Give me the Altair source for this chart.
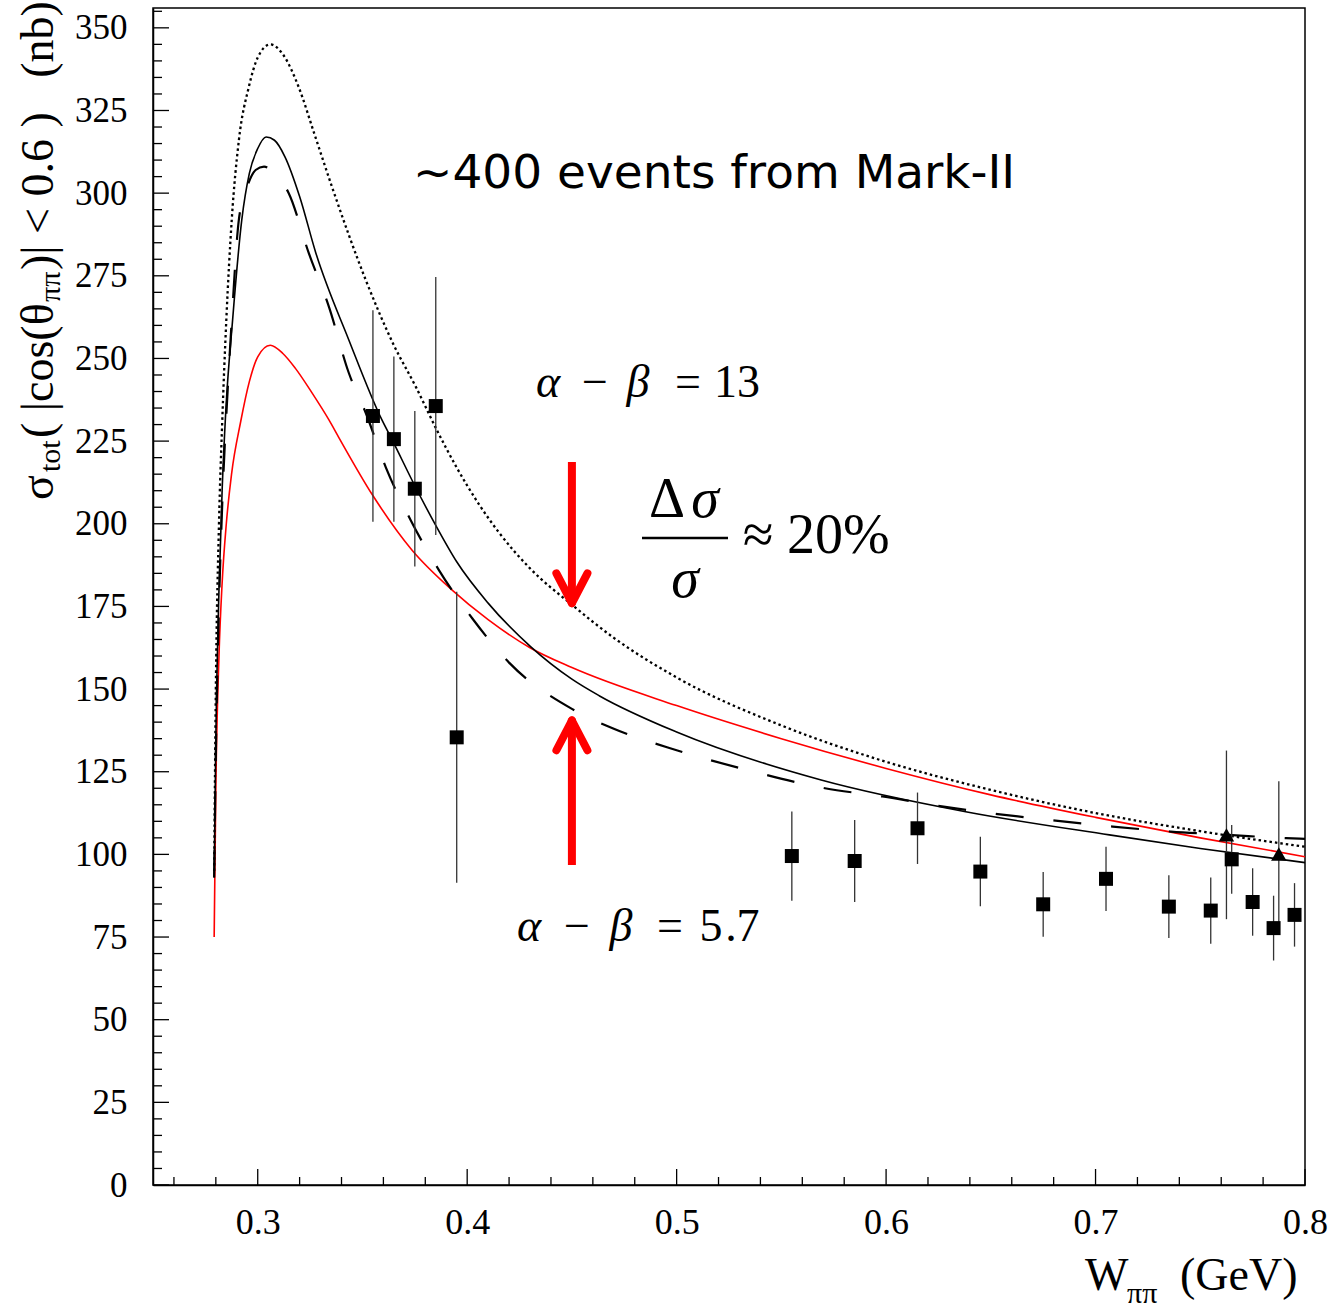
import altair as alt
import pandas as pd

# ---------------- data ----------------
# solid black curve
sol_x = [0.2792, 0.2800, 0.2815, 0.2830, 0.2847, 0.2880, 0.2924, 0.2960, 0.3000, 0.3040,
         0.3080, 0.3130, 0.3200, 0.3277, 0.3435, 0.3593, 0.3640, 0.3750, 0.3850, 0.3950,
         0.4100, 0.4300, 0.4500, 0.4630, 0.5000, 0.5690, 0.6380, 0.7066, 0.7500, 0.8000]
sol_y = [93, 135, 180, 210, 233.5, 261.6, 292, 306, 313.5, 317,
         316, 311, 299, 282, 255.6, 231.4, 225.6, 211.5, 199.5, 188.5,
         176, 163, 153, 148, 137, 122.5, 112.9, 105.9, 101.8, 97.5]

# red curve
red_x = [0.2792, 0.2800, 0.2815, 0.2830, 0.2850, 0.2875, 0.2919, 0.2960, 0.3000, 0.3060,
         0.3120, 0.3180, 0.3260, 0.3340, 0.3388, 0.3545, 0.3737, 0.3927, 0.4100, 0.4300,
         0.4500, 0.5000, 0.5500, 0.6000, 0.6500, 0.7000, 0.7500, 0.8000]
red_y = [75, 120, 160, 182, 200, 215, 231, 243, 250.5, 254,
         251.5, 247, 239.5, 231.4, 226, 209, 192, 180, 171, 162.5,
         156.5, 145, 135, 126, 118, 111.2, 105, 99.3]

# dotted curve
dot_x = [0.2792, 0.2800, 0.2815, 0.2830, 0.2850, 0.2876, 0.2910, 0.2957, 0.3000, 0.3060,
         0.3120, 0.3196, 0.3270, 0.3354, 0.3516, 0.3650, 0.3755, 0.3850, 0.3950, 0.4050,
         0.4150, 0.4300, 0.4500, 0.4700, 0.5000, 0.5500, 0.6000, 0.6500, 0.7000, 0.7500,
         0.8000]
dot_y = [95, 150, 200, 230, 261.6, 292, 316, 332, 341, 345,
         342, 332, 318, 302, 273.7, 254, 241.4, 229, 217, 206.5,
         197.5, 186.5, 175.5, 165.5, 153.5, 139, 128, 119.5, 112.5, 107,
         102.3]

# dashed curve
das_x = [0.2792, 0.2800, 0.2815, 0.2830, 0.2857, 0.2876, 0.2910, 0.2950, 0.2990, 0.3030,
         0.3080, 0.3148, 0.3243, 0.3340, 0.3435, 0.3516, 0.3612, 0.3731, 0.3865, 0.4023,
         0.4200, 0.4500, 0.4700, 0.5000, 0.5350, 0.5708, 0.5983, 0.6258, 0.6533, 0.6809,
         0.7082, 0.7359, 0.7634, 0.7910, 0.8000]
das_y = [93, 130, 175, 205, 241, 261.6, 292, 302, 307, 308,
         306, 300, 282, 265.6, 245.6, 233.5, 217, 201, 186, 171.5,
         158, 144, 138, 131.5, 125.3, 120, 117.5, 114.6, 112.2, 110.2,
         108.4, 106.9, 105.9, 104.9, 104.7]

# Mark-II data (squares)
sq_x = [0.355, 0.365, 0.375, 0.385, 0.395, 0.555, 0.585, 0.615, 0.645, 0.675,
        0.705, 0.735, 0.755, 0.765, 0.775, 0.785, 0.795]
sq_y = [232.6, 225.6, 210.6, 235.6, 135.4, 99.5, 98.0, 107.9, 94.8, 84.9,
        92.6, 84.2, 83.0, 98.5, 85.6, 77.7, 81.7]
sq_err = [32, 25, 23.5, 39, 44, 13.5, 12.4, 10.8, 10.5, 9.8,
          9.7, 9.5, 10, 10.4, 10.2, 9.8, 9.6]

# triangles
tri_x = [0.7625, 0.7875]
tri_y = [105.9, 100.1]
tri_err = [25.5, 22]

# axis ticks / labels
x_labels = [0.3, 0.4, 0.5, 0.6, 0.7, 0.8]
x_minor = [0.26, 0.28, 0.32, 0.34, 0.36, 0.38, 0.42, 0.44, 0.46, 0.48, 0.52, 0.54, 0.56,
           0.58, 0.62, 0.64, 0.66, 0.68, 0.72, 0.74, 0.76, 0.78]
y_labels = [0, 25, 50, 75, 100, 125, 150, 175, 200, 225, 250, 275, 300, 325, 350]
y_minor = [v for v in range(0, 356, 5) if v % 25 != 0]

# red arrows (annotation), data coordinates
arr_x = [0.45, 0.4426, 0.4574, 0.45, 0.4426, 0.4574]
arr_y = [218.7, 185.0, 185.0, 96.8, 131.5, 131.5]
arr_x2 = [0.45, 0.45, 0.45, 0.45, 0.45, 0.45]
arr_y2 = [176.0, 176.0, 176.0, 140.5, 140.5, 140.5]
arr_kind = ["shaft", "head", "head", "shaft", "head", "head"]

# ---------------- chart ----------------
W, H = 1152, 1177
PL, PT = 153, 8
X_DOM = [0.25, 0.8]
Y_DOM = [0, 356]
SERIF = "Liberation Serif"

xaxis = alt.Axis(values=x_labels, format=".1f", ticks=False, tickSize=0, grid=False,
                 labelFont=SERIF, labelFontSize=36, labelColor="black", labelPadding=20,
                 domainColor="black", domainWidth=1.5, labelFlush=False, labelOverlap=False)
yaxis = alt.Axis(values=y_labels, format="d", ticks=False, tickSize=0, grid=False,
                 labelFont=SERIF, labelFontSize=35, labelColor="black", labelPadding=26,
                 domainColor="black", domainWidth=1.5, labelOverlap=False)

xs = alt.Scale(domain=X_DOM, nice=False, zero=False)
ys = alt.Scale(domain=Y_DOM, nice=False, zero=False)


def X(f="x"):
    return alt.X(f"{f}:Q", scale=xs, axis=xaxis, title=None)


def Y(f="y"):
    return alt.Y(f"{f}:Q", scale=ys, axis=yaxis, title=None)


def line(xv, yv, **kw):
    df = pd.DataFrame({"x": xv, "y": yv})
    return alt.Chart(df).mark_line(interpolate="monotone", **kw).encode(x=X(), y=Y(), order="x:Q")


layers = []
layers.append(line(red_x, red_y, color="#ff0000", strokeWidth=1.6))
layers.append(line(dot_x, dot_y, color="black", strokeWidth=2.3, strokeDash=[2.5, 3]))
layers.append(line(das_x, das_y, color="black", strokeWidth=2.2, strokeDash=[28, 30]))
layers.append(line(sol_x, sol_y, color="black", strokeWidth=1.6))

sq_df = pd.DataFrame({"x": sq_x, "y": sq_y,
                      "lo": [a - b for a, b in zip(sq_y, sq_err)],
                      "hi": [a + b for a, b in zip(sq_y, sq_err)]})
tri_df = pd.DataFrame({"x": tri_x, "y": tri_y,
                       "lo": [a - b for a, b in zip(tri_y, tri_err)],
                       "hi": [a + b for a, b in zip(tri_y, tri_err)]})

for d in (sq_df, tri_df):
    layers.append(alt.Chart(d).mark_rule(color="#333333", strokeWidth=1.3).encode(
        x=X(), y=Y("lo"), y2=alt.Y2("hi:Q")))
layers.append(alt.Chart(sq_df).mark_square(color="black", size=196, opacity=1, filled=True)
              .encode(x=X(), y=Y()))
layers.append(alt.Chart(tri_df).mark_point(shape="triangle-up", color="black", size=240,
                                           opacity=1, filled=True).encode(x=X(), y=Y()))

# inward ticks
layers.append(alt.Chart(pd.DataFrame({"x": x_labels})).mark_rule(color="black", strokeWidth=1.3)
              .encode(x=X(), y=alt.value(H), y2=alt.value(H - 16)))
layers.append(alt.Chart(pd.DataFrame({"x": x_minor})).mark_rule(color="black", strokeWidth=1.3)
              .encode(x=X(), y=alt.value(H), y2=alt.value(H - 8)))
layers.append(alt.Chart(pd.DataFrame({"y": y_labels})).mark_rule(color="black", strokeWidth=1.3)
              .encode(y=Y(), x=alt.value(0), x2=alt.value(16)))
layers.append(alt.Chart(pd.DataFrame({"y": y_minor})).mark_rule(color="black", strokeWidth=1.3)
              .encode(y=Y(), x=alt.value(0), x2=alt.value(9)))

# arrows
arr_df = pd.DataFrame({"x": arr_x, "y": arr_y, "x2": arr_x2, "y2": arr_y2, "kind": arr_kind})
layers.append(alt.Chart(arr_df).transform_filter(alt.datum.kind == "shaft")
              .mark_rule(color="#ff0000", strokeWidth=8, strokeCap="butt")
              .encode(x=X(), y=Y(), x2=alt.X2("x2:Q"), y2=alt.Y2("y2:Q")))
layers.append(alt.Chart(arr_df).transform_filter(alt.datum.kind == "head")
              .mark_rule(color="#ff0000", strokeWidth=8, strokeCap="round")
              .encode(x=X(), y=Y(), x2=alt.X2("x2:Q"), y2=alt.Y2("y2:Q")))


def txt(s, px, py, size, font=SERIF, style="normal", align="left", angle=0,
        baseline="alphabetic"):
    return (alt.Chart(alt.Data(values=[{}]))
            .mark_text(text=s, font=font, fontSize=size, fontStyle=style, align=align,
                       baseline=baseline, angle=angle, color="black")
            .encode(x=alt.value(px - PL), y=alt.value(py - PT)))


# annotation texts (page coordinates)
layers.append(txt("~400 events from Mark-II", 413, 188, 47, font="DejaVu Sans"))

layers.append(txt("\u03b1", 548, 397, 46, style="italic", align="center"))
layers.append(txt("\u2212", 595, 397, 46, align="center"))
layers.append(txt("\u03b2", 638, 397, 46, style="italic", align="center"))
layers.append(txt("=", 688, 397, 46, align="center"))
layers.append(txt("13", 737, 397, 46, align="center"))

layers.append(txt("\u03b1", 529, 941, 46, style="italic", align="center"))
layers.append(txt("\u2212", 577, 941, 46, align="center"))
layers.append(txt("\u03b2", 621, 941, 46, style="italic", align="center"))
layers.append(txt("=", 670, 941, 46, align="center"))
layers.append(txt("5", 711, 941, 46, align="center"))
layers.append(txt(".", 731, 941, 46, align="center"))
layers.append(txt("7", 748, 941, 46, align="center"))

layers.append(txt("\u0394", 667, 517, 56, align="center"))
layers.append(txt("\u03c3", 705, 517, 56, style="italic", align="center"))
layers.append(txt("\u03c3", 685, 597, 56, style="italic", align="center"))
layers.append(alt.Chart(alt.Data(values=[{}])).mark_rule(color="black", strokeWidth=2.5)
              .encode(x=alt.value(642 - PL), x2=alt.value(728 - PL), y=alt.value(538 - PT)))
layers.append(txt("\u2248", 758, 553, 56, align="center"))
layers.append(txt("20%", 787, 553, 56))

# y-axis title (rotated pieces, reading upwards)
YB = 53
layers.append(txt("\u03c3", YB, 500, 46, angle=270))
layers.append(txt("tot", YB + 7, 472, 30, angle=270))
layers.append(txt("( |cos(\u03b8", YB, 438, 46, angle=270))
layers.append(txt("\u03c0\u03c0", YB + 7, 302, 30, angle=270))
layers.append(txt(")| < 0.6 )\u00a0\u00a0\u00a0(nb)", YB, 270, 46, angle=270))

# x-axis title
layers.append(txt("W", 1085, 1290, 46))
layers.append(txt("\u03c0\u03c0", 1127, 1303, 30))
layers.append(txt("(GeV)", 1180, 1290, 46))

chart = (alt.layer(*layers)
         .properties(width=W, height=H, autosize=alt.AutoSizeParams(type="none"),
                     padding={"left": PL, "top": PT, "right": 1331 - PL - W,
                              "bottom": 1309 - PT - H},
                     background="white")
         .configure_view(stroke="black", strokeWidth=1.5))

chart.save("out.html", embed_options={"renderer": "svg", "actions": False})
